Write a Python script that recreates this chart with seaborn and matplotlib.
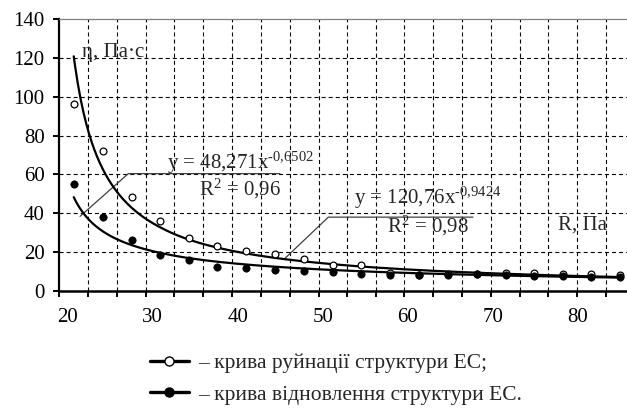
import numpy as np
import pandas as pd
import matplotlib
matplotlib.use("Agg")
import matplotlib.pyplot as plt
import seaborn as sns
from matplotlib.lines import Line2D

# ---- data ----
R_pa = [20.7, 24.1, 27.5, 30.9, 34.2, 37.6, 41.0, 44.4, 47.8, 51.2,
        54.5, 57.9, 61.3, 64.7, 68.1, 71.5, 74.8, 78.2, 81.6, 85.0]
eta_destruction = [96.0, 72.0, 48.5, 36.0, 27.5, 23.0, 20.5, 19.0, 16.5, 13.5,
                   13.6, 9.4, 8.3, 8.6, 8.9, 9.4, 9.2, 9.0, 9.0, 8.3]
eta_recovery = [55.0, 38.0, 26.0, 18.5, 15.7, 12.6, 11.7, 10.9, 10.3, 9.6,
                8.7, 8.4, 8.2, 8.3, 8.8, 8.0, 7.8, 7.5, 7.3, 7.0]
x_ticklabels = [20, 30, 40, 50, 60, 70, 80]
y_ticks = [0, 20, 40, 60, 80, 100, 120, 140]
# Excel power trendlines (fitted over point index 1..n)
fit_destruction = {"a": 120.76, "b": -0.9424, "a_txt": "120,76", "b_txt": "-0,9424", "r2": "0,98"}
fit_recovery = {"a": 48.271, "b": -0.6502, "a_txt": "48,271", "b_txt": "-0,6502", "r2": "0,96"}
legend_labels = ["– крива руйнації структури ЕС;", "– крива відновлення структури ЕС."]
y_label = "η, Па·с"
x_label = "R, Па"

# ---- style ----
sns.set_theme(style="white")
plt.rcParams["font.family"] = ["Liberation Serif", "DejaVu Serif"]
plt.rcParams["mathtext.fontset"] = "custom"
plt.rcParams["mathtext.rm"] = "Liberation Serif"
plt.rcParams["mathtext.it"] = "Liberation Serif:italic"
plt.rcParams["lines.scale_dashes"] = False
FS = 15

W, H = 627, 408
fig = plt.figure(figsize=(W / 100, H / 100), dpi=100)
left_px, right_px, top_px, bottom_px = 59.3, 627.0, 18.9, 291.0
ax = fig.add_axes([left_px / W, 1 - bottom_px / H, (right_px - left_px) / W, (bottom_px - top_px) / H])

n = len(R_pa)
idx = np.arange(1, n + 1)
half = (R_pa[1] - R_pa[0]) / 2
x_lo = R_pa[0] - half
x_hi = x_lo + (right_px - left_px) / 8.5
ax.set_xlim(x_lo, x_hi)
ax.set_ylim(0, 140)

# category boundaries -> tick marks / vertical grid
bounds = [R_pa[0] - half] + [(R_pa[i] + R_pa[i + 1]) / 2 for i in range(n - 1)] + [R_pa[-1] + half]
dash = (0, (2.9, 2.2))
for b in bounds[1:]:
    if b < x_hi:
        ax.axvline(b, color="black", lw=0.8, ls=dash, zorder=1)
for yv in y_ticks[1:-1]:
    ax.axhline(yv, color="black", lw=0.8, ls=dash, zorder=1)

# trendlines
t = np.linspace(1, n, 400)
xc = np.interp(t, idx, R_pa)
curves = pd.DataFrame({
    "x": np.concatenate([xc, xc]),
    "y": np.concatenate([fit_destruction["a"] * t ** fit_destruction["b"],
                         fit_recovery["a"] * t ** fit_recovery["b"]]),
    "s": ["d"] * len(t) + ["r"] * len(t),
})
sns.lineplot(data=curves, x="x", y="y", units="s", estimator=None, color="black",
             lw=1.6, ax=ax, zorder=3, sort=False)

pts = pd.DataFrame({"R": R_pa, "destr": eta_destruction, "recov": eta_recovery})
sns.scatterplot(data=pts, x="R", y="destr", ax=ax, marker="o", s=24, facecolor="white",
                edgecolor="black", linewidth=0.9, zorder=4)
sns.scatterplot(data=pts, x="R", y="recov", ax=ax, marker="o", s=28, color="black",
                edgecolor="black", linewidth=0.5, zorder=4)

# axes decoration
ax.set_xlabel("")
ax.set_ylabel("")
ax.set_xticks(x_ticklabels)
ax.set_xticklabels([str(v) for v in x_ticklabels], fontsize=FS)
ax.set_xticks([b for b in bounds if b < x_hi], minor=True)
ax.tick_params(axis="x", which="major", length=0, pad=12)
ax.tick_params(axis="x", which="minor", direction="out", length=4, width=1.4, color="black", bottom=True)
ax.set_yticks(y_ticks)
ax.set_yticklabels([str(v) for v in y_ticks], fontsize=FS)
ax.tick_params(axis="y", which="major", direction="out", length=4.5, width=1.4, color="black", pad=6, left=True)
for s in ["left", "bottom"]:
    ax.spines[s].set_color("black")
ax.spines["left"].set_linewidth(1.6)
ax.spines["bottom"].set_linewidth(1.8)
ax.spines["top"].set_color("#7f7f7f")
ax.spines["top"].set_linewidth(0.9)
ax.spines["right"].set_visible(False)
ax.tick_params(colors="black")

# labels inside the plot
ax.text(21.7, 122.9, y_label, fontsize=FS, ha="left", va="center", zorder=5)
ax.text(80.5, 33.8, x_label, fontsize=FS, ha="center", va="center", zorder=5)

HY = "\u2010"  # plain hyphen as in the reference

def eq_text(fit, cx, y1, y2):
    ax.text(cx, y1, "y = %sx$^{%s}$" % (fit["a_txt"], fit["b_txt"].replace("-", HY).replace(",", "{,}")),
            fontsize=FS, ha="center", va="baseline", zorder=5)
    ax.text(cx, y2, "R$^{2}$ = %s" % fit["r2"], fontsize=FS, ha="center", va="baseline", zorder=5)

eq_text(fit_recovery, 40.3, 63.1, 49.2)
eq_text(fit_destruction, 62.4, 45.1, 30.2)

# leader lines
ax.plot([21.44, 27.12, 44.96], [38.4, 60.4, 60.4], color="#404040", lw=0.9, zorder=2)
ax.plot([45.55, 50.65, 67.67], [16.8, 38.0, 38.0], color="#404040", lw=0.9, zorder=2)

# legend below
handles = [
    Line2D([], [], color="black", lw=2.4, marker="o", markersize=6.5,
           markerfacecolor="white", markeredgecolor="black", markeredgewidth=1.0),
    Line2D([], [], color="black", lw=2.4, marker="o", markersize=6.5,
           markerfacecolor="black", markeredgecolor="black"),
]
fig.legend(handles, legend_labels, loc="center left", bbox_to_anchor=(150 / W, 1 - 379 / H),
           frameon=False, fontsize=15.5, handlelength=1.8, handletextpad=0.45,
           labelspacing=0.55, borderpad=0, borderaxespad=0)

fig.savefig("out.png", dpi=100, facecolor="white")
